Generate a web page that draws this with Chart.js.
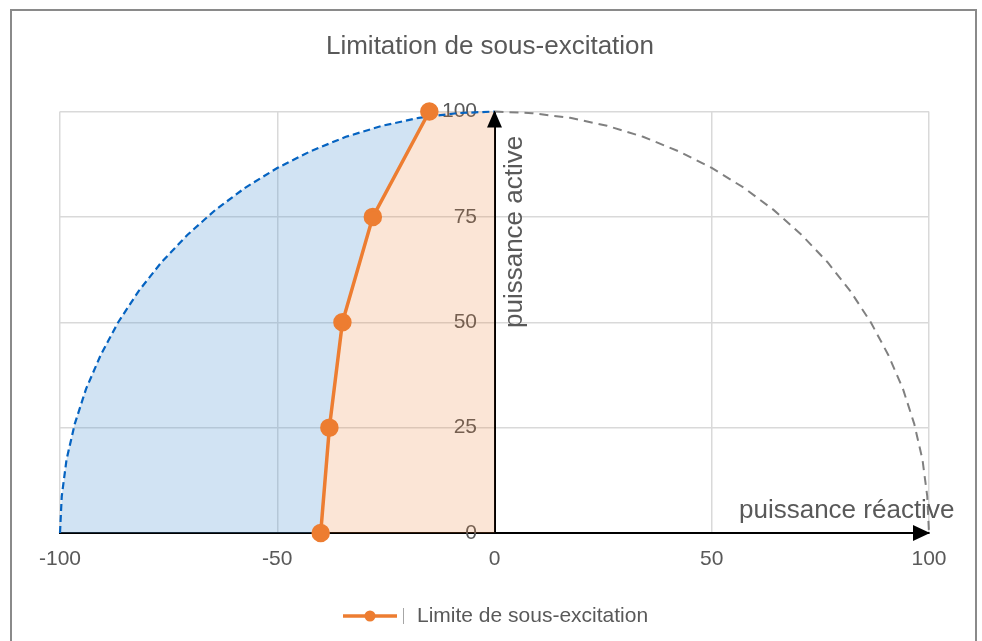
<!DOCTYPE html>
<html>
<head>
<meta charset="utf-8">
<script src="https://cdn.jsdelivr.net/npm/chart.js@4/dist/chart.umd.min.js"></script>
<style>
  html, body { margin: 0; padding: 0; background: #ffffff; overflow: hidden; }
  #frame { position: absolute; left: 10px; top: 9px; width: 963px; height: 700px; border: 2px solid #8a8a8a; }
  #wrap { position: absolute; left: 0; top: 0; width: 982px; height: 641px; }
</style>
</head>
<body>
<div id="frame"></div>
<div id="wrap"><canvas id="c"></canvas></div>
<script>
// ---- data ----
const chartTitle = 'Limitation de sous-excitation';
const seriesName = 'Limite de sous-excitation';
const xAxisTitle = 'puissance réactive';
const yAxisTitle = 'puissance active';

// under-excitation limit (reactive power, active power)
const reactiveLimit = [-40, -38, -35, -28, -15];
const activeLimit   = [0, 25, 50, 75, 100];

// capability circle (radius 100), left quarter
const circleQ = [-100, -99.6, -98.5, -96.6, -94, -90.6, -86.6, -81.9, -76.6, -70.7, -64.3, -57.4, -50, -42.3, -34.2, -25.9, -17.4, -8.7, 0];
const circleP = [0, 8.7, 17.4, 25.9, 34.2, 42.3, 50, 57.4, 64.3, 70.7, 76.6, 81.9, 86.6, 90.6, 94, 96.6, 98.5, 99.6, 100];

const xTicks = [-100, -50, 0, 50, 100];
const yTicks = [0, 25, 50, 75, 100];

// ---- build point lists from the arrays ----
const limitPts = reactiveLimit.map((q, i) => ({ x: q, y: activeLimit[i] }));
const leftArc = circleQ.map((q, i) => ({ x: q, y: circleP[i] }));
const rightArc = circleQ.slice().reverse().map((q, i) => ({ x: -q, y: circleP[circleP.length - 1 - i] }));
const lastQ = reactiveLimit[reactiveLimit.length - 1];
const blueRegion = leftArc.filter(p => p.x < lastQ).concat(limitPts.slice().reverse());
const orangeRegion = limitPts.concat([
  { x: 0, y: activeLimit[activeLimit.length - 1] },
  { x: 0, y: activeLimit[0] }
]);

const FONT = "'Liberation Sans', Arial, sans-serif";
const ORANGE = '#ED7D31';
const TEXT = '#595959';

const overlay = {
  id: 'overlay',
  afterDraw(chart) {
    const ctx = chart.ctx;
    const xs = chart.scales.x, ys = chart.scales.y;
    const x0 = xs.getPixelForValue(0), y0 = ys.getPixelForValue(0);
    const xMax = xs.getPixelForValue(xTicks[xTicks.length - 1]);
    const yMax = ys.getPixelForValue(yTicks[yTicks.length - 1]);
    ctx.save();
    // arrows
    ctx.fillStyle = '#000';
    ctx.beginPath();
    ctx.moveTo(xMax + 1, y0);
    ctx.lineTo(xMax - 16, y0 - 8);
    ctx.lineTo(xMax - 16, y0 + 8);
    ctx.closePath();
    ctx.fill();
    ctx.beginPath();
    ctx.moveTo(x0, yMax - 1);
    ctx.lineTo(x0 - 7.5, yMax + 16);
    ctx.lineTo(x0 + 7.5, yMax + 16);
    ctx.closePath();
    ctx.fill();
    // title
    ctx.fillStyle = TEXT;
    ctx.font = '26px ' + FONT;
    ctx.textAlign = 'center';
    ctx.textBaseline = 'alphabetic';
    ctx.fillText(chartTitle, 490, 54);
    // x axis title
    ctx.textAlign = 'left';
    ctx.fillText(xAxisTitle, 739, 518);
    // y axis title (rotated)
    ctx.save();
    ctx.translate(522, 328);
    ctx.rotate(-Math.PI / 2);
    ctx.textAlign = 'left';
    ctx.fillText(yAxisTitle, 0, 0);
    ctx.restore();
    // legend
    const ly = 616;
    ctx.strokeStyle = ORANGE;
    ctx.lineWidth = 3.5;
    ctx.beginPath();
    ctx.moveTo(343, ly);
    ctx.lineTo(397, ly);
    ctx.stroke();
    ctx.fillStyle = ORANGE;
    ctx.beginPath();
    ctx.arc(370, ly, 5.5, 0, Math.PI * 2);
    ctx.fill();
    ctx.strokeStyle = '#A6A6A6';
    ctx.lineWidth = 1;
    ctx.beginPath();
    ctx.moveTo(403.5, ly - 8);
    ctx.lineTo(403.5, ly + 8);
    ctx.stroke();
    ctx.fillStyle = TEXT;
    ctx.font = '21px ' + FONT;
    ctx.textBaseline = 'middle';
    ctx.fillText(seriesName, 417, ly);
    ctx.restore();
  }
};

new Chart(document.getElementById('c'), {
  type: 'scatter',
  data: {
    datasets: [
      {
        label: seriesName,
        data: limitPts,
        showLine: true,
        clip: false,
        borderColor: ORANGE,
        borderWidth: 3.5,
        backgroundColor: ORANGE,
        pointBackgroundColor: ORANGE,
        pointBorderColor: ORANGE,
        pointRadius: 7.5,
        pointHoverRadius: 7.5,
        fill: false
      },
      {
        label: 'cercle gauche',
        data: leftArc,
        showLine: true,
        clip: false,
        borderColor: '#0563C1',
        borderWidth: 2.2,
        borderDash: [7, 4],
        pointRadius: 0,
        fill: false
      },
      {
        label: 'cercle droit',
        data: rightArc,
        showLine: true,
        clip: false,
        borderColor: '#808080',
        borderWidth: 2,
        borderDash: [9, 6],
        pointRadius: 0,
        fill: false
      },
      {
        label: 'zone limite',
        data: orangeRegion,
        showLine: true,
        borderWidth: 0,
        borderColor: 'rgba(0,0,0,0)',
        backgroundColor: 'rgba(237,125,49,0.2)',
        pointRadius: 0,
        fill: 'shape'
      },
      {
        label: 'zone interdite',
        data: blueRegion,
        showLine: true,
        borderWidth: 0,
        borderColor: 'rgba(0,0,0,0)',
        backgroundColor: 'rgba(91,155,213,0.28)',
        pointRadius: 0,
        fill: 'shape'
      }
    ]
  },
  options: {
    responsive: true,
    maintainAspectRatio: false,
    animation: false,
    layout: { padding: { left: 60, right: 53, top: 111.5, bottom: 0 } },
    plugins: {
      legend: { display: false },
      title: { display: false },
      tooltip: { enabled: false }
    },
    scales: {
      x: {
        type: 'linear',
        min: xTicks[0],
        max: xTicks[xTicks.length - 1],
        afterBuildTicks: s => { s.ticks = xTicks.map(v => ({ value: v })); },
        afterFit: s => { s.height = 108; },
        ticks: { color: TEXT, font: { family: FONT, size: 21 }, padding: 14, maxRotation: 0, autoSkip: false },
        grid: { color: '#D9D9D9', lineWidth: 1.5, drawTicks: false },
        border: { color: '#000000', width: 2 }
      },
      y: {
        type: 'linear',
        position: { x: 0 },
        min: yTicks[0],
        max: yTicks[yTicks.length - 1],
        afterBuildTicks: s => { s.ticks = yTicks.map(v => ({ value: v })); },
        ticks: {
          color: TEXT,
          font: { family: FONT, size: 21 },
          autoSkip: false,
          callback: v => v + '   '
        },
        grid: { color: '#D9D9D9', lineWidth: 1.5, drawTicks: false },
        border: { color: '#000000', width: 2 }
      }
    }
  },
  plugins: [overlay]
});
</script>
</body>
</html>
